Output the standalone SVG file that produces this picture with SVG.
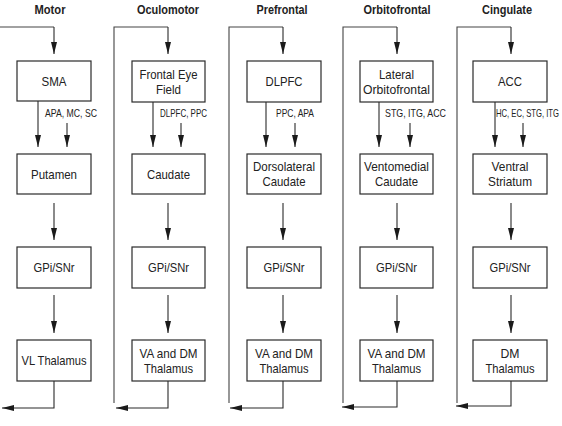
<svg xmlns="http://www.w3.org/2000/svg" width="562" height="426" viewBox="0 0 562 426">
<style>
.bg{fill:#fff}
.box{fill:#fff;stroke:#2a2a2a;stroke-width:1.2}
.c{fill:none;stroke:#2a2a2a;stroke-width:1.1}
.loop{fill:none;stroke:#444;stroke-width:1.1}
.t{font-family:"Liberation Sans",Arial,sans-serif;font-size:13px;fill:#222;text-anchor:middle}
.h{font-family:"Liberation Sans",Arial,sans-serif;font-size:13px;font-weight:bold;fill:#222;text-anchor:middle}
.l{font-family:"Liberation Sans",Arial,sans-serif;font-size:10.5px;fill:#222}
</style>
<defs>
<marker id="ah" viewBox="0 0 12 6" refX="12" refY="3" markerWidth="12" markerHeight="6" markerUnits="userSpaceOnUse" orient="auto">
<path d="M0,0 L12,3 L0,6 z" fill="#1a1a1a"/>
</marker>
</defs>
<rect class="bg" x="0" y="0" width="562" height="426"/>

<g id="titles">
<text class="h" x="50" y="14" textLength="31" lengthAdjust="spacingAndGlyphs">Motor</text>
<text class="h" x="168" y="14" textLength="62" lengthAdjust="spacingAndGlyphs">Oculomotor</text>
<text class="h" x="282" y="14" textLength="51" lengthAdjust="spacingAndGlyphs">Prefrontal</text>
<text class="h" x="397" y="14" textLength="67" lengthAdjust="spacingAndGlyphs">Orbitofrontal</text>
<text class="h" x="507" y="14" textLength="50" lengthAdjust="spacingAndGlyphs">Cingulate</text>
</g>

<g id="connectors">
<path class="loop" d="M0,27 H54"/>
<path class="loop" d="M114,403 V27 H168"/>
<path class="loop" d="M229,403 V27 H283"/>
<path class="loop" d="M343,403 V27 H397"/>
<path class="loop" d="M457,403 V27 H511"/>
<path class="c" d="M54,27 V54" marker-end="url(#ah)"/>
<path class="c" d="M168,27 V54" marker-end="url(#ah)"/>
<path class="c" d="M283,27 V54" marker-end="url(#ah)"/>
<path class="c" d="M397,27 V54" marker-end="url(#ah)"/>
<path class="c" d="M511,27 V54" marker-end="url(#ah)"/>
<path class="c" d="M38,101 V147" marker-end="url(#ah)"/>
<path class="c" d="M67,123 V147" marker-end="url(#ah)"/>
<path class="c" d="M153,102 V147" marker-end="url(#ah)"/>
<path class="c" d="M181,123 V147" marker-end="url(#ah)"/>
<path class="c" d="M266,102 V147" marker-end="url(#ah)"/>
<path class="c" d="M295,123 V147" marker-end="url(#ah)"/>
<path class="c" d="M379,102 V147" marker-end="url(#ah)"/>
<path class="c" d="M410,123 V147" marker-end="url(#ah)"/>
<path class="c" d="M495,102 V147" marker-end="url(#ah)"/>
<path class="c" d="M523,123 V147" marker-end="url(#ah)"/>
<path class="c" d="M54,203 V240" marker-end="url(#ah)"/>
<path class="c" d="M168,203 V240" marker-end="url(#ah)"/>
<path class="c" d="M283,203 V240" marker-end="url(#ah)"/>
<path class="c" d="M397,203 V240" marker-end="url(#ah)"/>
<path class="c" d="M511,203 V240" marker-end="url(#ah)"/>
<path class="c" d="M54,295 V333" marker-end="url(#ah)"/>
<path class="c" d="M168,295 V333" marker-end="url(#ah)"/>
<path class="c" d="M283,295 V333" marker-end="url(#ah)"/>
<path class="c" d="M397,295 V333" marker-end="url(#ah)"/>
<path class="c" d="M511,295 V333" marker-end="url(#ah)"/>
<path class="c" d="M54,381 V408 H2" marker-end="url(#ah)"/>
<path class="c" d="M168,381 V408 H116" marker-end="url(#ah)"/>
<path class="c" d="M283,381 V408 H230" marker-end="url(#ah)"/>
<path class="c" d="M397,381 V407 H342" marker-end="url(#ah)"/>
<path class="c" d="M511,381 V406 H456" marker-end="url(#ah)"/>
<text class="l" x="45" y="117" textLength="52" lengthAdjust="spacingAndGlyphs">APA, MC, SC</text>
<text class="l" x="160" y="117" textLength="47" lengthAdjust="spacingAndGlyphs">DLPFC, PPC</text>
<text class="l" x="276" y="117" textLength="38" lengthAdjust="spacingAndGlyphs">PPC, APA</text>
<text class="l" x="385" y="117" textLength="61" lengthAdjust="spacingAndGlyphs">STG, ITG, ACC</text>
<text class="l" x="496" y="117" textLength="63" lengthAdjust="spacingAndGlyphs">HC, EC, STG, ITG</text>
</g>

<g id="sma"><rect class="box" x="17" y="61" width="74" height="40"/><text class="t" x="54" y="85.5" textLength="25" lengthAdjust="spacingAndGlyphs">SMA</text></g>
<g id="fef"><rect class="box" x="132" y="61" width="73" height="41"/><text class="t" x="168.5" y="79" textLength="58" lengthAdjust="spacingAndGlyphs">Frontal Eye</text><text class="t" x="168.5" y="94" textLength="25" lengthAdjust="spacingAndGlyphs">Field</text></g>
<g id="dlpfc"><rect class="box" x="247" y="61" width="74" height="41"/><text class="t" x="284" y="86" textLength="37" lengthAdjust="spacingAndGlyphs">DLPFC</text></g>
<g id="lofc"><rect class="box" x="360" y="61" width="73" height="41"/><text class="t" x="396.5" y="79" textLength="35" lengthAdjust="spacingAndGlyphs">Lateral</text><text class="t" x="396.5" y="94" textLength="67" lengthAdjust="spacingAndGlyphs">Orbitofrontal</text></g>
<g id="acc"><rect class="box" x="473" y="61" width="74" height="41"/><text class="t" x="510" y="86" textLength="24" lengthAdjust="spacingAndGlyphs">ACC</text></g>

<g id="putamen"><rect class="box" x="17" y="154" width="74" height="40"/><text class="t" x="54" y="179" textLength="46" lengthAdjust="spacingAndGlyphs">Putamen</text></g>
<g id="caudate"><rect class="box" x="132" y="154" width="73" height="40"/><text class="t" x="168.5" y="179" textLength="43" lengthAdjust="spacingAndGlyphs">Caudate</text></g>
<g id="dlcaudate"><rect class="box" x="247" y="154" width="74" height="40"/><text class="t" x="284" y="171" textLength="62" lengthAdjust="spacingAndGlyphs">Dorsolateral</text><text class="t" x="284" y="186" textLength="43" lengthAdjust="spacingAndGlyphs">Caudate</text></g>
<g id="vmcaudate"><rect class="box" x="360" y="154" width="73" height="40"/><text class="t" x="396.5" y="171" textLength="65" lengthAdjust="spacingAndGlyphs">Ventomedial</text><text class="t" x="396.5" y="186" textLength="43" lengthAdjust="spacingAndGlyphs">Caudate</text></g>
<g id="vstriatum"><rect class="box" x="473" y="154" width="74" height="40"/><text class="t" x="510" y="171" textLength="37" lengthAdjust="spacingAndGlyphs">Ventral</text><text class="t" x="510" y="186" textLength="44" lengthAdjust="spacingAndGlyphs">Striatum</text></g>

<g id="gpi1"><rect class="box" x="17" y="247" width="74" height="41"/><text class="t" x="54" y="272" textLength="41" lengthAdjust="spacingAndGlyphs">GPi/SNr</text></g>
<g id="gpi2"><rect class="box" x="132" y="247" width="73" height="41"/><text class="t" x="168.5" y="272" textLength="41" lengthAdjust="spacingAndGlyphs">GPi/SNr</text></g>
<g id="gpi3"><rect class="box" x="247" y="247" width="74" height="41"/><text class="t" x="284" y="272" textLength="41" lengthAdjust="spacingAndGlyphs">GPi/SNr</text></g>
<g id="gpi4"><rect class="box" x="360" y="247" width="73" height="41"/><text class="t" x="396.5" y="272" textLength="41" lengthAdjust="spacingAndGlyphs">GPi/SNr</text></g>
<g id="gpi5"><rect class="box" x="473" y="247" width="74" height="41"/><text class="t" x="510" y="272" textLength="41" lengthAdjust="spacingAndGlyphs">GPi/SNr</text></g>

<g id="vl"><rect class="box" x="17" y="340" width="74" height="41"/><text class="t" x="54" y="365" textLength="65" lengthAdjust="spacingAndGlyphs">VL Thalamus</text></g>
<g id="vadm2"><rect class="box" x="132" y="340" width="73" height="41"/><text class="t" x="168.5" y="358" textLength="58" lengthAdjust="spacingAndGlyphs">VA and DM</text><text class="t" x="168.5" y="373" textLength="49" lengthAdjust="spacingAndGlyphs">Thalamus</text></g>
<g id="vadm3"><rect class="box" x="247" y="340" width="74" height="41"/><text class="t" x="284" y="358" textLength="58" lengthAdjust="spacingAndGlyphs">VA and DM</text><text class="t" x="284" y="373" textLength="49" lengthAdjust="spacingAndGlyphs">Thalamus</text></g>
<g id="vadm4"><rect class="box" x="360" y="340" width="73" height="41"/><text class="t" x="396.5" y="358" textLength="58" lengthAdjust="spacingAndGlyphs">VA and DM</text><text class="t" x="396.5" y="373" textLength="49" lengthAdjust="spacingAndGlyphs">Thalamus</text></g>
<g id="dm5"><rect class="box" x="473" y="340" width="74" height="41"/><text class="t" x="510" y="358" textLength="19" lengthAdjust="spacingAndGlyphs">DM</text><text class="t" x="510" y="373" textLength="49" lengthAdjust="spacingAndGlyphs">Thalamus</text></g>
</svg>
